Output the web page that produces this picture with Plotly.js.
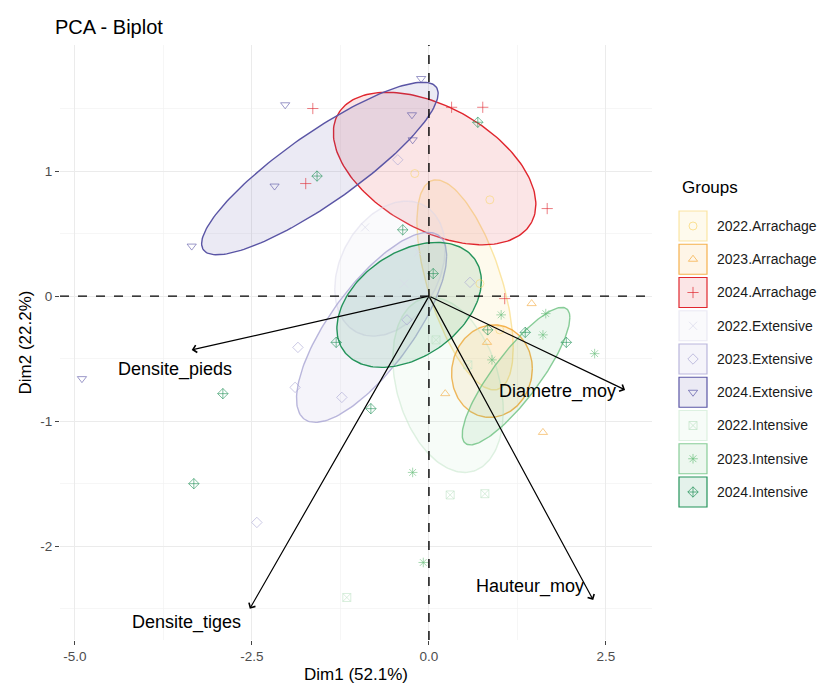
<!DOCTYPE html>
<html>
<head>
<meta charset="utf-8">
<script src="https://cdn.plot.ly/plotly-3.0.1.min.js"></script>
<style>html,body{margin:0;padding:0;background:#fff;}#chart{width:817px;height:686px;}</style>
</head>
<body>
<div id="chart"></div>
<script>
// ---------------- DATA ----------------
const groups = ['2022.Arrachage','2023.Arrachage','2024.Arrachage','2022.Extensive','2023.Extensive','2024.Extensive','2022.Intensive','2023.Intensive','2024.Intensive'];

// individual coordinates (Dim1, Dim2) per group
const x_2022_Arrachage = [-0.20, 0.86, 0.72, 1.00];
const y_2022_Arrachage = [0.98, 0.77, 0.10, -0.27];
const x_2023_Arrachage = [1.45, 0.82, 0.23, 1.61];
const y_2023_Arrachage = [-0.06, -0.37, -0.78, -1.09];
const x_2024_Arrachage = [-1.64, 0.32, 0.76, 1.67, -1.74, 1.07];
const y_2024_Arrachage = [1.50, 1.51, 1.51, 0.70, 0.90, -0.02];
const x_2022_Extensive = [-0.90, -0.15, -0.70, -0.35];
const y_2022_Extensive = [0.55, 0.35, -0.05, 0.10];
const x_2023_Extensive = [-0.44, -1.85, -1.89, -1.23, -2.43, 0.58, -0.31];
const y_2023_Extensive = [1.09, -0.41, -0.73, -0.81, -1.81, 0.11, -0.19];
const x_2024_Extensive = [-2.03, -0.11, -2.18, -3.35, -0.24, -0.23, -4.90];
const y_2024_Extensive = [1.53, 1.74, 0.88, 0.40, 1.45, 1.25, -0.66];
const x_2022_Intensive = [0.79, 0.30, -1.16, 0.55, 0.10];
const y_2022_Intensive = [-1.58, -1.59, -2.41, -0.55, -0.35];
const x_2023_Intensive = [1.65, 1.61, 0.89, 2.34, -0.23, -0.08, 1.02];
const y_2023_Intensive = [-0.14, -0.31, -0.51, -0.46, -1.41, -2.13, -0.15];
const x_2024_Intensive = [0.69, -1.58, -0.37, -1.31, -2.91, -3.32, -0.82, 1.94, 0.06, 1.36, 0.83];
const y_2024_Intensive = [1.39, 0.96, 0.53, -0.37, -0.78, -1.50, -0.90, -0.37, 0.18, -0.29, -0.27];

// group ellipses: centre, half extents along Dim1/Dim2, correlation
const ellCx = [0.51, 0.89, 0.08, -0.55, -0.81, -1.54, 0.27, 1.23, -0.28];
const ellCy = [0.09, -0.60, 1.02, 0.22, -0.25, 1.02, -0.71, -0.64, -0.07];
const ellHx = [0.68, 0.57, 1.43, 0.78, 1.06, 1.67, 0.78, 0.76, 1.02];
const ellHy = [0.84, 0.37, 0.61, 0.54, 0.76, 0.69, 0.70, 0.55, 0.50];
const ellR  = [-0.60, 0.05, -0.47, 0.30, 0.75, 0.87, -0.30, 0.85, 0.38];

// variables (arrows)
const varNames = ['Densite_pieds','Densite_tiges','Diametre_moy','Hauteur_moy'];
const varDim1 = [-3.35, -2.53, 2.77, 2.32];
const varDim2 = [-0.43, -2.50, -0.75, -2.43];

// ---------------- STYLE ----------------
const xs = [x_2022_Arrachage,x_2023_Arrachage,x_2024_Arrachage,x_2022_Extensive,x_2023_Extensive,x_2024_Extensive,x_2022_Intensive,x_2023_Intensive,x_2024_Intensive];
const ys = [y_2022_Arrachage,y_2023_Arrachage,y_2024_Arrachage,y_2022_Extensive,y_2023_Extensive,y_2024_Extensive,y_2022_Intensive,y_2023_Intensive,y_2024_Intensive];
const rgb = [[249,213,110],[244,169,59],[224,38,46],[217,216,234],[169,165,211],[90,85,165],[191,227,198],[108,192,127],[35,147,90]];
const lineA = [0.6,0.9,1,0.5,0.8,1,0.5,0.8,1];
const symbols = ['circle-open','triangle-up-open','cross-thin-open','x-thin-open','diamond-open','triangle-down-open','square-x-open','asterisk-open','diamond-cross-open'];
const col = (i,a)=>`rgba(${rgb[i][0]},${rgb[i][1]},${rgb[i][2]},${a})`;
const labelPos = [[-3.59,-0.59],[-3.42,-2.61],[1.81,-0.76],[1.43,-2.32]];

const traces = [];
for (let i=0;i<groups.length;i++){
  const d = Math.acos(ellR[i]);
  const ex=[], ey=[];
  for (let k=0;k<=180;k++){
    const t = 2*Math.PI*k/180;
    ex.push(ellCx[i] + ellHx[i]*Math.cos(t));
    ey.push(ellCy[i] + ellHy[i]*Math.cos(t + d));
  }
  traces.push({x:ex,y:ey,mode:'lines',fill:'toself',fillcolor:col(i,0.12),
    line:{color:col(i,lineA[i]),width:1.4},hoverinfo:'skip',showlegend:false,xaxis:'x',yaxis:'y'});
}
for (let i=0;i<groups.length;i++){
  traces.push({x:xs[i],y:ys[i],mode:'markers',name:groups[i],
    marker:{symbol:symbols[i],size:8,color:col(i,0.6),line:{width:1,color:col(i,0.6)}},
    showlegend:false,xaxis:'x',yaxis:'y'});
}
const legY0 = 226, legDy = 33.25, legX = 693;
const shapes = [];
const annotations = [];
const W=817,H=686;
const px = v=>v/W, py = v=>1-v/H;
for (let i=0;i<groups.length;i++){
  const cy = legY0 + legDy*i;
  shapes.push({type:'rect',xref:'paper',yref:'paper',x0:px(679),x1:px(707),y0:py(cy-15),y1:py(cy+15),
    fillcolor:col(i,0.12),line:{color:col(i,lineA[i]),width:1.2},layer:'below'});
  traces.push({x:[legX],y:[cy],mode:'markers',xaxis:'x2',yaxis:'y2',hoverinfo:'skip',showlegend:false,
    marker:{symbol:symbols[i],size:8,color:col(i,0.7),line:{width:1,color:col(i,0.7)}}});
  annotations.push({xref:'paper',yref:'paper',x:px(715),y:py(cy),xanchor:'left',yanchor:'middle',
    text:groups[i],showarrow:false,font:{size:14,color:'#1a1a1a'}});
}
annotations.push({xref:'paper',yref:'paper',x:px(680),y:py(188),xanchor:'left',yanchor:'middle',
  text:'Groups',showarrow:false,font:{size:17,color:'#000'}});

shapes.push({type:'line',xref:'x',yref:'y domain',x0:0,x1:0,y0:0,y1:1,line:{color:'#000',width:1.4,dash:'dash'}});
shapes.push({type:'line',xref:'x domain',yref:'y',x0:0,x1:1,y0:0,y1:0,line:{color:'#000',width:1.4,dash:'dash'}});

for (let i=0;i<varNames.length;i++){
  annotations.push({xref:'x',yref:'y',axref:'x',ayref:'y',x:varDim1[i],y:varDim2[i],ax:0,ay:0,text:'',
    showarrow:true,arrowhead:4,arrowsize:1.2,arrowwidth:1.2,arrowcolor:'#000'});
  annotations.push({xref:'x',yref:'y',x:labelPos[i][0],y:labelPos[i][1],text:varNames[i],showarrow:false,
    font:{size:18,color:'#000'},xanchor:'center',yanchor:'middle'});
}

const layout = {
  width:W,height:H,margin:{l:0,r:0,t:0,b:0},
  paper_bgcolor:'#fff',plot_bgcolor:'rgba(0,0,0,0)',
  font:{family:'"Liberation Sans", Arial, sans-serif'},
  showlegend:false,
  title:{text:'PCA - Biplot',x:px(55),xanchor:'left',y:py(27),yanchor:'middle',font:{size:20,color:'#000'}},
  xaxis:{domain:[px(60),px(652)],range:[-5.21,3.15],tickvals:[-5,-2.5,0,2.5],ticktext:['-5.0','-2.5','0.0','2.5'],
    showgrid:true,gridcolor:'#EBEBEB',gridwidth:1,zeroline:false,showline:false,
    minor:{tickvals:[-3.75,-1.25,1.25],showgrid:true,gridcolor:'#F2F2F2',gridwidth:0.7,ticks:''},
    ticks:'outside',ticklen:4,tickcolor:'#444',tickwidth:1,tickfont:{size:13.5,color:'#4d4d4d'},
    title:{text:'Dim1 (52.1%)',font:{size:17,color:'#000'},standoff:4}},
  yaxis:{domain:[1-640/H,1-45/H],range:[-2.75,2.008],tickvals:[-2,-1,0,1],ticktext:['-2','-1','0','1'],
    showgrid:true,gridcolor:'#EBEBEB',gridwidth:1,zeroline:false,showline:false,
    minor:{tickvals:[-2.5,-1.5,-0.5,0.5,1.5],showgrid:true,gridcolor:'#F2F2F2',gridwidth:0.7,ticks:''},
    ticks:'outside',ticklen:4,tickcolor:'#444',tickwidth:1,tickfont:{size:13.5,color:'#4d4d4d'},
    title:{text:'Dim2 (22.2%)',font:{size:17,color:'#000'},standoff:4}},
  xaxis2:{domain:[0,1],range:[0,W],visible:false,fixedrange:true,anchor:'y2'},
  yaxis2:{domain:[0,1],range:[H,0],visible:false,fixedrange:true,anchor:'x2'},
  shapes:shapes,annotations:annotations
};
Plotly.newPlot('chart',traces,layout,{displayModeBar:false,staticPlot:true});
</script>
</body>
</html>
